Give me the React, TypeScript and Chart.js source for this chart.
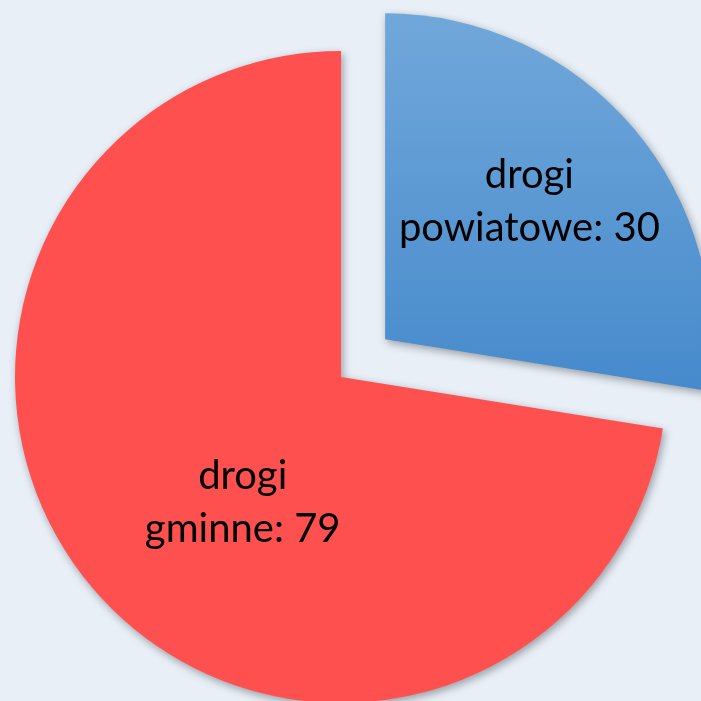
import React, { useEffect, useRef } from "react";
import { Chart, registerables, ArcElement } from "chart.js";

Chart.register(...registerables);

const categories: string[] = ["drogi powiatowe", "drogi gminne"];
const values: number[] = [30, 79];

const explode = [58, 0];
const labelRadius = [0.764, 0.52];
const labelAngleShift = [-0.4, -14.1];

const W = 701;
const H = 760;

export default function App() {
  const ref = useRef<HTMLCanvasElement | null>(null);

  useEffect(() => {
    const canvas = ref.current;
    if (!canvas) return;

    const explodePlugin = {
      id: "explode",
      beforeDatasetsDraw(chart: any) {
        const meta = chart.getDatasetMeta(0);
        meta.data.forEach((arc: any, i: number) => {
          const d = explode[i] || 0;
          arc.draw = function (ctx: CanvasRenderingContext2D) {
            const mid = (this.startAngle + this.endAngle) / 2;
            ctx.save();
            ctx.translate(Math.cos(mid) * d, Math.sin(mid) * d);
            (ArcElement.prototype as any).draw.call(this, ctx);
            ctx.restore();
          };
        });
        const ctx = chart.ctx;
        ctx.save();
        ctx.shadowColor = "rgba(0,0,0,0.35)";
        ctx.shadowBlur = 8;
        ctx.shadowOffsetX = 2;
        ctx.shadowOffsetY = 3;
      },
      afterDatasetsDraw(chart: any) {
        chart.ctx.restore();
      },
    };

    const labelPlugin = {
      id: "sliceLabels",
      afterDatasetsDraw(chart: any) {
        const ctx = chart.ctx;
        const meta = chart.getDatasetMeta(0);
        ctx.save();
        ctx.fillStyle = "#000";
        ctx.font = "40px Lato";
        ctx.textAlign = "center";
        ctx.textBaseline = "alphabetic";
        meta.data.forEach((arc: any, i: number) => {
          const p = arc.getProps(["x", "y", "startAngle", "endAngle", "outerRadius"], true);
          const mid = (p.startAngle + p.endAngle) / 2 + (labelAngleShift[i] * Math.PI) / 180;
          const r = p.outerRadius * labelRadius[i];
          const cx = p.x + Math.cos(mid) * r;
          const cy = p.y + Math.sin(mid) * r;
          const cat = categories[i];
          const sp = cat.indexOf(" ");
          const line1 = cat.slice(0, sp);
          const line2 = cat.slice(sp + 1) + ": " + values[i];
          ctx.fillText(line1, cx, cy - 26);
          ctx.fillText(line2, cx, cy + 27);
        });
        ctx.restore();
      },
    };

    const chart = new Chart(canvas, {
      type: "pie",
      data: {
        labels: categories,
        datasets: [
          {
            data: values,
            backgroundColor: (c: any) => {
              if (c.dataIndex === 0) {
                const g = c.chart.ctx.createLinearGradient(0, 60, 0, 430);
                g.addColorStop(0, "#70a7da");
                g.addColorStop(1, "#468acc");
                return g;
              }
              return "#ff5050";
            },
            borderWidth: 0,
            radius: 326,
          } as any,
        ],
      },
      options: {
        responsive: false,
        animation: false,
        layout: { padding: { left: 0, right: 19, top: 0, bottom: 6 } },
        plugins: {
          legend: { display: false },
          tooltip: { enabled: false },
        },
      },
      plugins: [explodePlugin, labelPlugin],
    });

    return () => chart.destroy();
  }, []);

  return (
    <div
      style={{
        position: "fixed",
        left: 0,
        top: 0,
        width: W,
        height: 701,
        overflow: "hidden",
        background: "#e8eff7",
      }}
    >
      <canvas ref={ref} width={W} height={H} style={{ width: W, height: H, display: "block" }} />
    </div>
  );
}
